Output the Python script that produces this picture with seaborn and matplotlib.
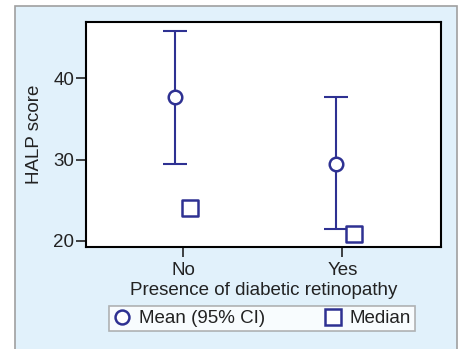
import matplotlib
matplotlib.use("Agg")
import matplotlib.pyplot as plt
import seaborn as sns
import pandas as pd
import numpy as np
from matplotlib.patches import Rectangle
from matplotlib.lines import Line2D

categories = ["No", "Yes"]
mean_vals = [37.65, 29.5]
ci_low = [29.5, 21.5]
ci_high = [45.8, 37.65]
median_vals = [24.0, 20.9]
mean_offsets = [-0.05, -0.04]
median_offsets = [0.045, 0.075]

sns.set_theme(style="white")
plt.rcParams['font.family'] = ['Liberation Sans', 'DejaVu Sans']

color = "#2e3192"
txt = "#222222"
fs = 13.5
fig = plt.figure(figsize=(4.63, 3.49), dpi=100)
fig.patch.set_facecolor("white")
panel = Rectangle((15/463, -0.05), (457-15)/463, 1.05 - 6/349, transform=fig.transFigure,
                  facecolor="#e1f1fb", edgecolor="#a0a0a0", linewidth=1.2, zorder=-5)
fig.patches.append(panel)

ax = fig.add_axes([86/463, 1-247/349, (441-86)/463, (247-22)/349])
ax.set_facecolor("white")

idx = np.arange(len(categories))
df = pd.DataFrame({
    "cat": categories,
    "xm": idx + np.array(mean_offsets),
    "xmed": idx + np.array(median_offsets),
    "mean": mean_vals,
    "median": median_vals,
    "lo": ci_low,
    "hi": ci_high,
})

ax.errorbar(df["xm"], df["mean"],
            yerr=[df["mean"] - df["lo"], df["hi"] - df["mean"]],
            fmt="none", ecolor=color, elinewidth=1.5, capsize=8.5, capthick=1.5, zorder=2)
sns.scatterplot(data=df, x="xm", y="mean", marker="o", s=95, facecolor="white",
                edgecolor=color, linewidth=1.8, ax=ax, zorder=3, legend=False)
sns.scatterplot(data=df, x="xmed", y="median", marker="s", s=130, facecolor="white",
                edgecolor=color, linewidth=1.8, ax=ax, zorder=3, legend=False)

ax.set_xlim(-0.61, 1.62)
ax.set_ylim(19.26, 46.9)
ax.set_xticks(idx)
ax.set_xticklabels(categories)
ax.set_yticks([20, 30, 40])
ax.tick_params(axis="both", direction="out", length=7, width=1.2, color=txt,
               labelsize=fs, labelcolor=txt, pad=1.5, bottom=True, left=True)
ax.tick_params(axis="x", pad=4)
for s in ax.spines.values():
    s.set_color("black")
    s.set_linewidth(1.5)
ax.set_xlabel("Presence of diabetic retinopathy", fontsize=fs, color=txt, labelpad=2)
ax.set_ylabel("HALP score", fontsize=fs, color=txt, labelpad=7)

handles = [
    Line2D([], [], marker="o", linestyle="none", markerfacecolor="white",
           markeredgecolor=color, markeredgewidth=1.8, markersize=10),
    Line2D([], [], marker="s", linestyle="none", markerfacecolor="white",
           markeredgecolor=color, markeredgewidth=1.8, markersize=11.5),
]
leg = fig.legend(handles, ["Mean (95% CI)", "Median"], ncol=2,
                 loc="center", bbox_to_anchor=(262/463, 1-318.5/349),
                 frameon=True, fancybox=False, fontsize=fs, columnspacing=3.1,
                 handletextpad=0.4, handlelength=1.0, borderpad=0.2, borderaxespad=0)
leg.get_frame().set_edgecolor("#a0a0a0")
leg.get_frame().set_linewidth(1.2)
leg.get_frame().set_facecolor("white")
for t in leg.get_texts():
    t.set_color(txt)

fig.savefig("out.png", dpi=100)
